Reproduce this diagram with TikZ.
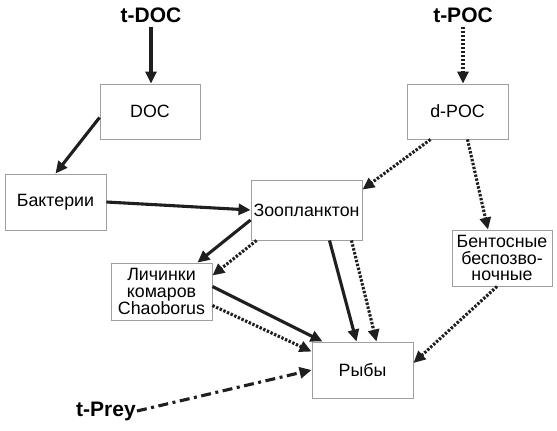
\documentclass[tikz,border=0pt]{standalone}
\usepackage{fontspec}
\setmainfont{Liberation Sans}
\usetikzlibrary{arrows.meta,calc}

\begin{document}
\begin{tikzpicture}[x=1pt, y=-1pt,
    box/.style={draw=gray!75, line width=0.9pt, fill=white, align=center, inner sep=0pt,
                font=\fontsize{17.8}{16.6}\selectfont},
    lbl/.style={font=\fontsize{21}{21}\selectfont\bfseries, inner sep=1pt},
    link/.style={draw=black!88, line width=3.1pt, -{Triangle[length=12pt,width=11pt]}},
    solidlink/.style={link},
    dotlink/.style={link, dash pattern=on 2.4pt off 1.6pt},
    preylink/.style={link, dash pattern=on 10pt off 4.5pt on 3pt off 4.5pt}
]
    \useasboundingbox (0,0) rectangle (557,431);

    % Sources
    \node[lbl] (tdoc) at (151,15) {t-DOC};
    \node[lbl] (tpoc) at (463,15) {t-POC};
    \node[lbl] (tprey) at (106,411) {t-Prey};

    % Boxes
    \node[box, minimum width=100, minimum height=55] (doc) at (150,111.5) {DOC};
    \node[box, minimum width=101, minimum height=55] (dpoc) at (457.5,111.5) {d-POC};
    \node[box, minimum width=101, minimum height=56] (bakt) at (55.5,202) {Бактерии};
    \node[box, minimum width=111, minimum height=60] (zoo) at (306.5,210) {Зоопланктон};
    \node[box, minimum width=101, minimum height=57] (lich) at (161.5,291.5) {Личинки\\комаров\\Chaoborus};
    \node[box, minimum width=100, minimum height=56] (bent) at (502,258) {Бентосные\\беспозво-\\ночные};
    \node[box, minimum width=101, minimum height=56] (ryby) at (362.5,370) {Рыбы};

    % Links
    \draw[solidlink] ([yshift=-3pt]tdoc.south) -- (tdoc.south |- doc.north);
    \draw[dotlink] ([yshift=-3pt]tpoc.south) -- (tpoc.south |- dpoc.north);
    \draw[solidlink] ([yshift=-6pt]doc.west) -- (bakt.north);
    \draw[solidlink] (bakt.east) -- (zoo.west);
    \draw[dotlink] ([xshift=-27pt]dpoc.south) -- ([yshift=-10pt]zoo.north east);
    \draw[dotlink] ([xshift=10pt]dpoc.south) -- ([xshift=-14pt]bent.north);
    \draw[solidlink] ([yshift=-10pt]zoo.west) -- ([xshift=-15pt]lich.north east);
    \draw[dotlink] ([xshift=6pt]zoo.south west) -- ([yshift=16pt]lich.east);
    \draw[solidlink] ([xshift=23pt]zoo.south) -- ([xshift=-6pt]ryby.north);
    \draw[dotlink] ([xshift=45pt]zoo.south) -- ([xshift=14pt]ryby.north);
    \draw[solidlink] ([yshift=5pt]lich.east) -- ([xshift=11pt]ryby.north west);
    \draw[dotlink] ([yshift=-14pt]lich.east) -- ([yshift=-10pt]ryby.north west);
    \draw[dotlink] ([xshift=-5pt]bent.south) -- ([yshift=7pt]ryby.east);
    \draw[preylink] (tprey.east) -- (ryby.west);
\end{tikzpicture}
\end{document}
